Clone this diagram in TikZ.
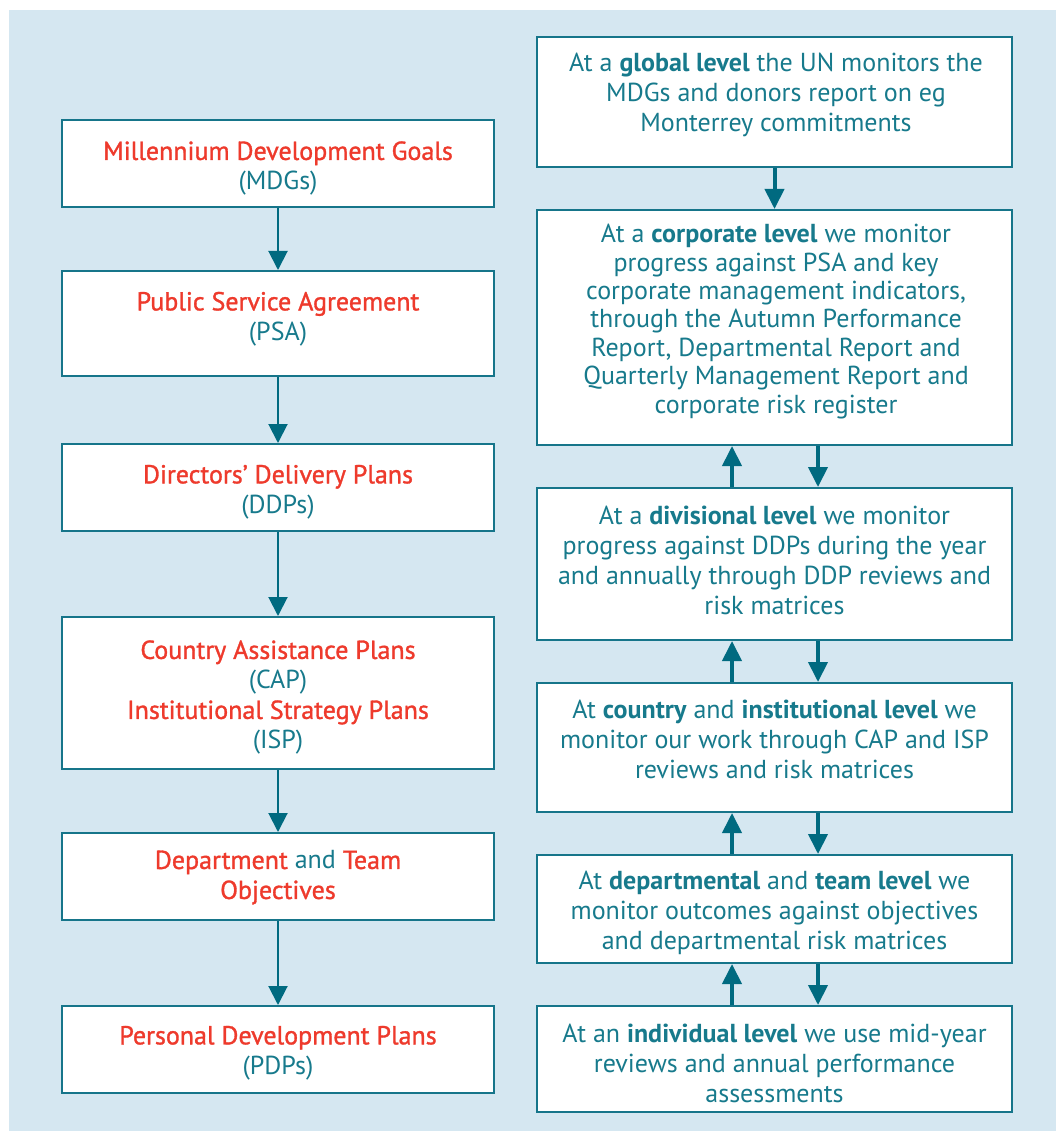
\documentclass[tikz,border=0pt]{standalone}
\usepackage{fontspec}
\setmainfont{PT Sans}
\newfontfamily\redfont[FakeBold=1.2]{PT Sans}
\usetikzlibrary{arrows.meta}
\definecolor{bg}{HTML}{D5E7F1}
\definecolor{tealtext}{HTML}{177A8C}
\definecolor{edgecol}{HTML}{16758A}
\definecolor{arrcol}{HTML}{006A80}
\definecolor{redtext}{HTML}{EE3A2C}
\newcommand{\rd}[1]{{\redfont\color{redtext}#1}}
\begin{document}
\begin{tikzpicture}[x=1pt,y=-1pt,
 box/.style={draw=edgecol,line width=2pt,fill=white,inner sep=0pt},
 lbox/.style={box,minimum width=432pt},
 rbox/.style={box,minimum width=475pt},
 txt/.style={align=center,text=tealtext,font=\fontsize{26}{30}\selectfont,inner sep=0pt},
 larrow/.style={draw=arrcol,line width=2pt,-{Triangle[width=19pt,length=19pt]}},
 rarrow/.style={draw=arrcol,line width=4pt,-{Triangle[width=19pt,length=20pt]}},
]
\useasboundingbox (0,0) rectangle (1056,1131);
\fill[bg] (9,10) rectangle (1056,1131);

% left column boxes
\node[lbox,minimum height=87pt]  (mdg)  at (278,163.5) {};
\node[lbox,minimum height=105pt] (psa)  at (278,323.5) {};
\node[lbox,minimum height=87pt]  (ddp)  at (278,487.5) {};
\node[lbox,minimum height=152pt] (cap)  at (278,693) {};
\node[lbox,minimum height=87pt]  (dept) at (278,876.5) {};
\node[lbox,minimum height=87pt]  (pdp)  at (278,1049.5) {};

\node[txt] (tmdg) at (278,168.5) {\rd{Millennium Development Goals}\\(MDGs)};
\node[txt] (tpsa) at (278,319) {\rd{Public Service Agreement}\\(PSA)};
\node[txt] (tddp) at (278,492) {\rd{Directors’ Delivery Plans}\\(DDPs)};
\node[txt] (tcap) at (278,697.5) {\rd{Country Assistance Plans}\\(CAP)\\\rd{Institutional Strategy Plans}\\(ISP)};
\node[txt] (tdept) at (278,877.5) {\rd{Department} and \rd{Team}\\\rd{Objectives}};
\node[txt] (tpdp) at (278,1053) {\rd{Personal Development Plans}\\(PDPs)};

\draw[larrow] (mdg.south) -- (psa.north);
\draw[larrow] (psa.south) -- (ddp.north);
\draw[larrow] (ddp.south) -- (cap.north);
\draw[larrow] (cap.south) -- (dept.north);
\draw[larrow] (dept.south) -- (pdp.north);

% right column boxes
\node[rbox,minimum height=130pt] (glob) at (774.5,102) {};
\node[rbox,minimum height=235pt] (corp) at (774.5,327.5) {};
\node[rbox,minimum height=152pt] (divl) at (774.5,564) {};
\node[rbox,minimum height=129pt] (ctry) at (774.5,747.5) {};
\node[rbox,minimum height=108pt] (dpt)  at (774.5,909) {};
\node[rbox,minimum height=106pt] (indv) at (774.5,1059) {};

\node[txt] (tglob) at (776,95) {At a \textbf{global level} the UN monitors the\\MDGs and donors report on eg\\Monterrey commitments};
\node[txt,font=\fontsize{26}{28.4}\selectfont] (tcorp) at (776,321.5) {At a \textbf{corporate level} we monitor\\progress against PSA and key\\corporate management indicators,\\through the Autumn Performance\\Report, Departmental Report and\\Quarterly Management Report and\\corporate risk register};
\node[txt] (tdivl) at (774.5,560.5) {At a \textbf{divisional level} we monitor\\progress against DDPs during the year\\and annually through DDP reviews and\\risk matrices};
\node[txt] (tctry) at (774.5,739.5) {At \textbf{country} and \textbf{institutional level} we\\monitor our work through CAP and ISP\\reviews and risk matrices};
\node[txt] (tdpt) at (774.5,912.5) {At \textbf{departmental} and \textbf{team level} we\\monitor outcomes against objectives\\and departmental risk matrices};
\node[txt] (tindv) at (774.5,1063.5) {At an \textbf{individual level} we use mid-year\\reviews and annual performance\\assessments};

\draw[rarrow] (glob.south) -- (corp.north);
\foreach \a/\b in {corp/divl,divl/ctry,ctry/dpt,dpt/indv}{
  \draw[rarrow] ([xshift=-42.5pt]\b.north) -- ([xshift=-42.5pt]\a.south);
  \draw[rarrow] ([xshift=43.5pt]\a.south) -- ([xshift=43.5pt]\b.north);
}
\end{tikzpicture}
\end{document}
